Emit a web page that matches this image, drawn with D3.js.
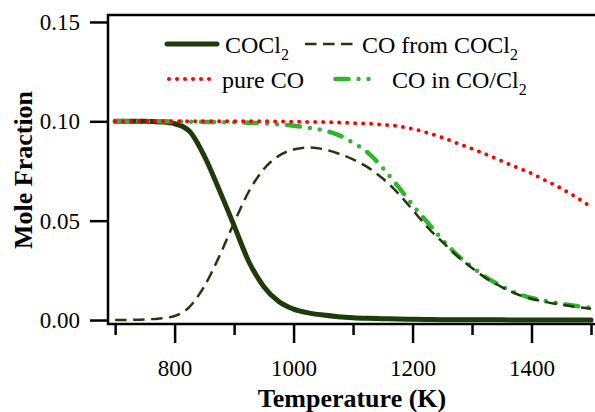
<!DOCTYPE html>
<html>
<head>
<meta charset="utf-8">
<script src="https://cdn.jsdelivr.net/npm/d3@7"></script>
<style>
  html, body { margin: 0; padding: 0; background: #fff; }
  svg { display: block; }
  svg text { font-family: "Liberation Serif", "Times New Roman", Times, serif; }
</style>
</head>
<body>
<div id="viz"></div>
<script>
var serif = '"Liberation Serif", "Times New Roman", Times, serif';

// temperatures (K)
var temps = [700, 725, 750, 775, 800, 825, 850, 875, 900, 925, 950, 975, 1000, 1025, 1050, 1075,
  1100, 1125, 1150, 1175, 1200, 1225, 1250, 1275, 1300, 1325, 1350, 1375, 1400, 1425, 1450, 1475, 1500];

var cocl2 = [.1000, .1000, .1000, .0997, .0988, .0950, .0825, .0655, .0475, .0292, .0168, .0093, .0055,
  .0036, .0025, .0017, .0012, .0009, .0007, .0005, .0004, .0003, .0002, .0002, .0001, .0001, .0001,
  0, 0, 0, 0, 0, 0];

var coFromCocl2 = [.0000, .0001, .0003, .0008, .0020, .0066, .0170, .0320, .0490, .0648, .0760, .0826,
  .0858, .0868, .0860, .0838, .0808, .0768, .0712, .0640, .0555, .0467, .0393, .0322, .0262, .0208,
  .0166, .0131, .0107, .0090, .0077, .0066, .0057];

var pureCo = [.1000, .1000, .1000, .1000, .1000, .1000, .1000, .1000, .1000, .1000, .1000, .0999,
  .0998, .0997, .0996, .0994, .0991, .0988, .0983, .0976, .0962, .0942, .0918, .0890, .0862, .0832,
  .0800, .0768, .0738, .0700, .0662, .0618, .0570];

var coInCoCl2 = [.1000, .1000, .1000, .1000, .0999, .0998, .0997, .0996, .0995, .0993, .0990, .0985,
  .0978, .0968, .0955, .0932, .0892, .0842, .0765, .0675, .0580, .0492, .0405, .0328, .0267, .0212,
  .0170, .0135, .0111, .0095, .0082, .0071, .0062];

var seriesNames = ["COCl_2", "CO from COCl_2", "pure CO", "CO in CO/Cl_2"];

var xMajorTicks = [800, 1000, 1200, 1400];
var xMinorTicks = [700, 900, 1100, 1300, 1500];
var yTicks = [0, 0.05, 0.10, 0.15];

var width = 595, height = 412;

var svg = d3.select('#viz')
  .append('svg')
    .attr('width', width)
    .attr('height', height)
    .attr('font-family', serif);

var x = d3.scaleLinear().domain([688, 1500]).range([108, 591]);
var y = d3.scaleLinear().domain([-0.002, 0.1535]).range([324, 15]);

// line styles, one per series (same order as seriesNames)
var styles = [
  { data: cocl2, color: "#1e3b0a", width: 5, dash: null, cap: "round" },
  { data: coFromCocl2, color: "#1e3b0a", width: 2.5, dash: "11.5,6.5", cap: "butt" },
  { data: pureCo, color: "#ff0000", width: 4, dash: "0,8", cap: "round" },
  { data: coInCoCl2, color: "#33b333", width: 4.5, dash: "13,10,0,10,0,10", cap: "round" }
];

var line = d3.line()
  .x(function(d) { return x(d[0]); })
  .y(function(d) { return y(d[1]); })
  .curve(d3.curveMonotoneX);

// draw order: solid first, then green, dashed, red dots on top
[0, 3, 1, 2].forEach(function(i) {
  var s = styles[i];
  svg.append('path')
    .datum(temps.map(function(t, j) { return [t, s.data[j]]; }))
    .attr('d', line)
    .attr('fill', 'none')
    .attr('stroke', s.color)
    .attr('stroke-width', s.width)
    .attr('stroke-linecap', s.cap)
    .attr('stroke-linejoin', 'round')
    .attr('stroke-dasharray', s.dash);
});

// axes
var xAxisMajor = d3.axisBottom(x).tickValues(xMajorTicks).tickSize(19).tickPadding(17)
  .tickFormat(d3.format("d"));
var xAxisMinor = d3.axisBottom(x).tickValues(xMinorTicks).tickSize(11).tickFormat("");
var yAxis = d3.axisLeft(y).tickValues(yTicks).tickSize(18).tickPadding(10)
  .tickFormat(d3.format(".2f"));

function styleAxis(g) {
  g.attr('font-family', serif).attr('font-size', 23);
  g.select('.domain').remove();
  g.selectAll('line').attr('stroke', '#000').attr('stroke-width', 2.5);
  g.selectAll('text').attr('fill', '#000')
    .attr('font-family', serif).attr('font-size', 23);
}

svg.append('g').attr('transform', 'translate(0,324)').call(xAxisMinor).call(styleAxis)
  .selectAll('text').remove();
svg.append('g').attr('transform', 'translate(0,324)').call(xAxisMajor).call(styleAxis);
svg.append('g').attr('transform', 'translate(108,0)').call(yAxis).call(styleAxis);

// frame
var frame = svg.append('g').attr('stroke', '#000').attr('stroke-width', 2.5);
frame.append('line').attr('x1', 108).attr('y1', 14).attr('x2', 108).attr('y2', 325);
frame.append('line').attr('x1', 107).attr('y1', 15).attr('x2', 596).attr('y2', 15);
frame.append('line').attr('x1', 107).attr('y1', 324).attr('x2', 596).attr('y2', 324);

// axis titles
svg.append('text')
  .attr('x', 352).attr('y', 407)
  .attr('text-anchor', 'middle')
  .attr('font-family', serif)
  .attr('font-size', 26).attr('font-weight', 'bold')
  .text('Temperature (K)');

svg.append('text')
  .attr('transform', 'translate(32,170) rotate(-90)')
  .attr('text-anchor', 'middle')
  .attr('font-family', serif)
  .attr('font-size', 26).attr('font-weight', 'bold')
  .text('Mole Fraction');

// legend; subscripts only ever come at the end of a name
function addLabel(g, str) {
  var parts = str.split(/_(\d)/);
  parts.forEach(function(p, k) {
    if (!p) return;
    if (k % 2 === 1) {
      g.append('tspan').attr('dy', 7).attr('font-size', 16).text(p);
    } else {
      g.append('tspan').text(p);
    }
  });
}

var legendPos = [
  { x1: 167, x2: 217, y: 44, tx: 225, ty: 53 },
  { x1: 305, x2: 353, y: 44, tx: 362, ty: 53 },
  { x1: 169, x2: 213, y: 79, tx: 222, ty: 88 },
  { x1: 335.5, x2: 369, y: 79, tx: 392, ty: 88 }
];

seriesNames.forEach(function(name, i) {
  var s = styles[i], p = legendPos[i];
  svg.append('line')
    .attr('x1', p.x1).attr('x2', p.x2).attr('y1', p.y).attr('y2', p.y)
    .attr('stroke', s.color)
    .attr('stroke-width', s.width)
    .attr('stroke-linecap', s.cap)
    .attr('stroke-dasharray', s.dash);
  var t = svg.append('text')
    .attr('x', p.tx).attr('y', p.ty)
    .attr('font-family', serif)
    .attr('font-size', 24);
  addLabel(t, name);
});
</script>
</body>
</html>
